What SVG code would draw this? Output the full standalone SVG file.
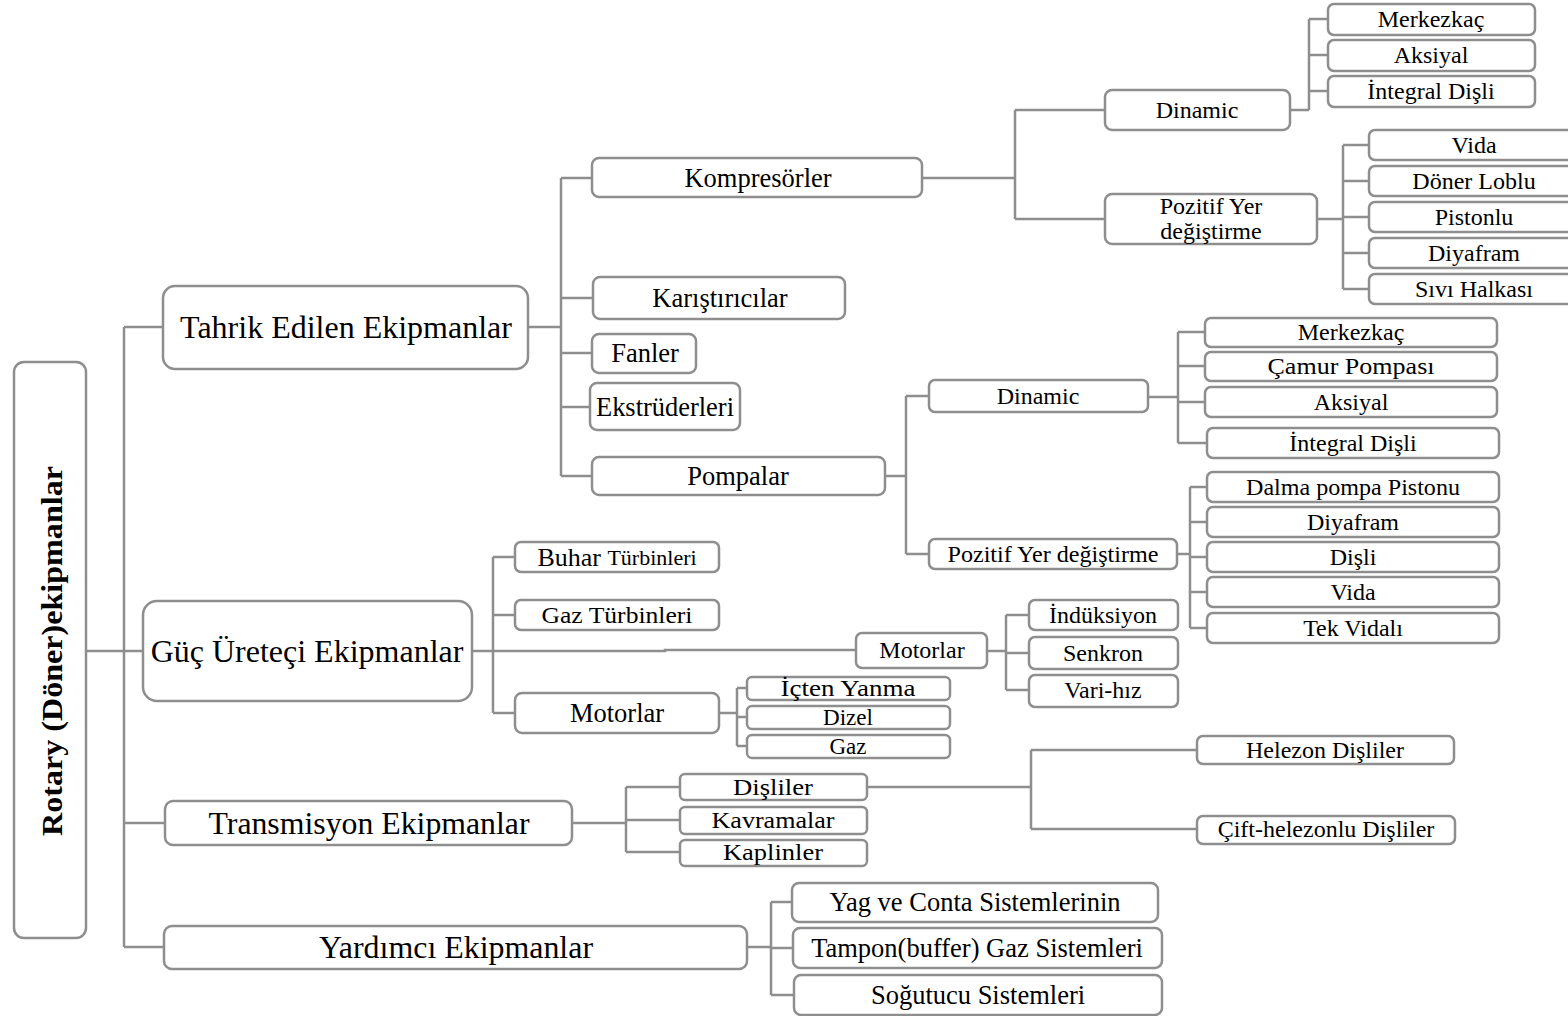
<svg xmlns="http://www.w3.org/2000/svg" width="1568" height="1016" viewBox="0 0 1568 1016">
  <style>
    .box { fill: #ffffff; stroke: #8e8e8e; stroke-width: 2.5; }
    .link { fill: none; stroke: #8e8e8e; stroke-width: 2.5; }
    text { font-family: "Liberation Serif", "Times New Roman", serif; fill: #000000; text-anchor: middle; dominant-baseline: central; }
    .l1 { font-size: 32px; }
    .l2 { font-size: 26.5px; }
    .l3 { font-size: 24px; }
    .root { font-size: 29px; font-weight: bold; }
  </style>
  <rect width="1568" height="1016" fill="#ffffff"/>

  <!-- connectors -->
  <g id="connectors">
    <!-- root trunk -->
    <path class="link" d="M86 651 H143 M124 327 V947 M124 327 H163 M124 823 H165 M124 947 H164"/>
    <!-- Tahrik Edilen Ekipmanlar -->
    <path class="link" d="M528 327 H561 M561 178 V476 M561 178 H592 M561 298 H593 M561 353 H592 M561 407 H590 M561 476 H592"/>
    <!-- Kompresörler -->
    <path class="link" d="M922 178 H1015 M1015 110 V219 M1015 110 H1105 M1015 219 H1105"/>
    <path class="link" d="M1290 110 H1309 M1309 19 V110 M1309 19 H1328 M1309 55 H1328 M1309 91 H1328"/>
    <path class="link" d="M1317 219 H1343 M1343 145 V289 M1343 145 H1369 M1343 181 H1369 M1343 217 H1369 M1343 253 H1369 M1343 289 H1369"/>
    <!-- Pompalar -->
    <path class="link" d="M885 476 H906 M906 396 V554 M906 396 H929 M906 554 H929"/>
    <path class="link" d="M1148 397 H1178 M1178 332 V443 M1178 332 H1205 M1178 366 H1205 M1178 402 H1205 M1178 443 H1207"/>
    <path class="link" d="M1177 554 H1190 M1190 487 V628 M1190 487 H1207 M1190 522 H1207 M1190 557 H1207 M1190 592 H1207 M1190 628 H1207"/>
    <!-- Güç Üreteçi Ekipmanlar -->
    <path class="link" d="M472 651 H665 V650 H856 M493 557 V713 M493 557 H515 M493 615 H515 M493 713 H515"/>
    <path class="link" d="M987 651 H1006 M1006 615 V690 M1006 615 H1029 M1006 653 H1029 M1006 690 H1029"/>
    <path class="link" d="M719 713 H737 M737 688 V746 M737 688 H747 M737 717 H747 M737 746 H747"/>
    <!-- Transmisyon Ekipmanlar -->
    <path class="link" d="M572 823 H626 M626 787 V852 M626 787 H680 M626 820 H680 M626 852 H680"/>
    <path class="link" d="M867 787 H1031 M1031 750 V829 M1031 750 H1197 M1031 829 H1197"/>
    <!-- Yardımcı Ekipmanlar -->
    <path class="link" d="M747 947 H771 M771 902 V995 M771 902 H792 M771 948 H793 M771 995 H794"/>
  </g>

  <!-- root -->
  <g id="n-root">
    <rect class="box" x="14" y="362" width="72" height="576" rx="10"/>
    <text class="root" transform="translate(52 651) rotate(-90)" x="0" y="0" textLength="370" lengthAdjust="spacingAndGlyphs">Rotary (Döner)ekipmanlar</text>
  </g>

  <!-- level 1 -->
  <g id="n-tahrik">
    <rect class="box" x="163" y="286" width="365" height="83" rx="12"/>
    <text class="l1" x="346" y="327">Tahrik Edilen Ekipmanlar</text>
  </g>
  <g id="n-guc">
    <rect class="box" x="143" y="601" width="329" height="100" rx="14"/>
    <text class="l1" x="307" y="651">Güç Üreteçi Ekipmanlar</text>
  </g>
  <g id="n-transmisyon">
    <rect class="box" x="165" y="801" width="407" height="44" rx="8"/>
    <text class="l1" x="369" y="823" font-size="34" textLength="321" lengthAdjust="spacingAndGlyphs">Transmisyon Ekipmanlar</text>
  </g>
  <g id="n-yardimci">
    <rect class="box" x="164" y="926" width="583" height="43" rx="8"/>
    <text class="l1" x="456" y="947" textLength="274" lengthAdjust="spacingAndGlyphs">Yardımcı Ekipmanlar</text>
  </g>

  <!-- Tahrik Edilen Ekipmanlar children -->
  <g id="n-kompresorler">
    <rect class="box" x="592" y="158" width="330" height="39" rx="7"/>
    <text class="l2" x="758" y="178">Kompresörler</text>
  </g>
  <g id="n-karistiricilar">
    <rect class="box" x="593" y="277" width="252" height="42" rx="7"/>
    <text class="l2" x="720" y="298">Karıştırıcılar</text>
  </g>
  <g id="n-fanler">
    <rect class="box" x="592" y="334" width="104" height="39" rx="7"/>
    <text class="l2" x="645" y="353">Fanler</text>
  </g>
  <g id="n-ekstruderleri">
    <rect class="box" x="590" y="383" width="150" height="47" rx="7"/>
    <text class="l2" x="665" y="407" textLength="138" lengthAdjust="spacingAndGlyphs">Ekstrüderleri</text>
  </g>
  <g id="n-pompalar">
    <rect class="box" x="592" y="457" width="293" height="38" rx="7"/>
    <text class="l2" x="738" y="476">Pompalar</text>
  </g>

  <!-- Kompresörler children -->
  <g id="n-komp-dinamic">
    <rect class="box" x="1105" y="90" width="185" height="40" rx="7"/>
    <text class="l3" x="1197" y="110">Dinamic</text>
  </g>
  <g id="n-komp-pozitif">
    <rect class="box" x="1105" y="194" width="212" height="50" rx="7"/>
    <text class="l3" x="1211" y="206">Pozitif Yer</text>
    <text class="l3" x="1211" y="231">değiştirme</text>
  </g>
  <g id="n-komp-merkezkac">
    <rect class="box" x="1328" y="4" width="207" height="31" rx="6"/>
    <text class="l3" x="1431" y="19">Merkezkaç</text>
  </g>
  <g id="n-komp-aksiyal">
    <rect class="box" x="1328" y="40" width="207" height="31" rx="6"/>
    <text class="l3" x="1431" y="55">Aksiyal</text>
  </g>
  <g id="n-komp-integral">
    <rect class="box" x="1328" y="76" width="207" height="31" rx="6"/>
    <text class="l3" x="1431" y="91">İntegral Dişli</text>
  </g>
  <g id="n-komp-vida">
    <rect class="box" x="1369" y="130" width="215" height="30" rx="6"/>
    <text class="l3" x="1474" y="145">Vida</text>
  </g>
  <g id="n-komp-doner">
    <rect class="box" x="1369" y="166" width="215" height="30" rx="6"/>
    <text class="l3" x="1474" y="181">Döner Loblu</text>
  </g>
  <g id="n-komp-pistonlu">
    <rect class="box" x="1369" y="202" width="215" height="30" rx="6"/>
    <text class="l3" x="1474" y="217">Pistonlu</text>
  </g>
  <g id="n-komp-diyafram">
    <rect class="box" x="1369" y="238" width="215" height="30" rx="6"/>
    <text class="l3" x="1474" y="253">Diyafram</text>
  </g>
  <g id="n-komp-sivi">
    <rect class="box" x="1369" y="274" width="215" height="30" rx="6"/>
    <text class="l3" x="1474" y="289">Sıvı Halkası</text>
  </g>

  <!-- Pompalar children -->
  <g id="n-pomp-dinamic">
    <rect class="box" x="929" y="380" width="219" height="32" rx="6"/>
    <text class="l3" x="1038" y="396">Dinamic</text>
  </g>
  <g id="n-pomp-pozitif">
    <rect class="box" x="929" y="539" width="248" height="30" rx="6"/>
    <text class="l3" x="1053" y="554" textLength="211" lengthAdjust="spacingAndGlyphs">Pozitif Yer değiştirme</text>
  </g>
  <g id="n-pomp-merkezkac">
    <rect class="box" x="1205" y="318" width="292" height="29" rx="6"/>
    <text class="l3" x="1351" y="332">Merkezkaç</text>
  </g>
  <g id="n-pomp-camur">
    <rect class="box" x="1205" y="352" width="292" height="29" rx="6"/>
    <text class="l3" x="1351" y="366" textLength="167" lengthAdjust="spacingAndGlyphs">Çamur Pompası</text>
  </g>
  <g id="n-pomp-aksiyal">
    <rect class="box" x="1205" y="387" width="292" height="30" rx="6"/>
    <text class="l3" x="1351" y="402">Aksiyal</text>
  </g>
  <g id="n-pomp-integral">
    <rect class="box" x="1207" y="428" width="292" height="30" rx="6"/>
    <text class="l3" x="1353" y="443">İntegral Dişli</text>
  </g>
  <g id="n-pomp-dalma">
    <rect class="box" x="1207" y="472" width="292" height="30" rx="6"/>
    <text class="l3" x="1353" y="487" textLength="214" lengthAdjust="spacingAndGlyphs">Dalma pompa Pistonu</text>
  </g>
  <g id="n-pomp-diyafram">
    <rect class="box" x="1207" y="507" width="292" height="30" rx="6"/>
    <text class="l3" x="1353" y="522">Diyafram</text>
  </g>
  <g id="n-pomp-disli">
    <rect class="box" x="1207" y="542" width="292" height="30" rx="6"/>
    <text class="l3" x="1353" y="557">Dişli</text>
  </g>
  <g id="n-pomp-vida">
    <rect class="box" x="1207" y="577" width="292" height="30" rx="6"/>
    <text class="l3" x="1353" y="592">Vida</text>
  </g>
  <g id="n-pomp-tekvidali">
    <rect class="box" x="1207" y="613" width="292" height="30" rx="6"/>
    <text class="l3" x="1353" y="628">Tek Vidalı</text>
  </g>

  <!-- Güç Üreteçi Ekipmanlar children -->
  <g id="n-buhar">
    <rect class="box" x="515" y="542" width="204" height="30" rx="6"/>
    <text class="l3" x="617" y="557"><tspan font-size="26">Buhar </tspan><tspan font-size="22">Türbinleri</tspan></text>
  </g>
  <g id="n-gaz-turbin">
    <rect class="box" x="515" y="600" width="204" height="30" rx="6"/>
    <text class="l3" x="617" y="615" textLength="151" lengthAdjust="spacingAndGlyphs">Gaz Türbinleri</text>
  </g>
  <g id="n-motor-elektrik">
    <rect class="box" x="856" y="633" width="131" height="35" rx="6"/>
    <text class="l3" x="922" y="650">Motorlar</text>
  </g>
  <g id="n-induksiyon">
    <rect class="box" x="1029" y="600" width="149" height="30" rx="6"/>
    <text class="l3" x="1103" y="615">İndüksiyon</text>
  </g>
  <g id="n-senkron">
    <rect class="box" x="1029" y="637" width="149" height="32" rx="6"/>
    <text class="l3" x="1103" y="653">Senkron</text>
  </g>
  <g id="n-varihiz">
    <rect class="box" x="1029" y="675" width="149" height="32" rx="6"/>
    <text class="l3" x="1103" y="690">Vari-hız</text>
  </g>
  <g id="n-motor-icten">
    <rect class="box" x="515" y="693" width="204" height="40" rx="7"/>
    <text class="l2" x="617" y="713">Motorlar</text>
  </g>
  <g id="n-icten-yanma">
    <rect class="box" x="747" y="677" width="203" height="23" rx="5"/>
    <text class="l3" x="848" y="688" textLength="135" lengthAdjust="spacingAndGlyphs">İçten Yanma</text>
  </g>
  <g id="n-dizel">
    <rect class="box" x="747" y="706" width="203" height="23" rx="5"/>
    <text class="l3" x="848" y="717" textLength="50" lengthAdjust="spacingAndGlyphs">Dizel</text>
  </g>
  <g id="n-gaz">
    <rect class="box" x="747" y="735" width="203" height="23" rx="5"/>
    <text class="l3" x="848" y="746" textLength="37" lengthAdjust="spacingAndGlyphs">Gaz</text>
  </g>

  <!-- Transmisyon Ekipmanlar children -->
  <g id="n-disliler">
    <rect class="box" x="680" y="774" width="187" height="26" rx="5"/>
    <text class="l3" x="773" y="787" textLength="80" lengthAdjust="spacingAndGlyphs">Dişliler</text>
  </g>
  <g id="n-kavramalar">
    <rect class="box" x="680" y="807" width="187" height="27" rx="5"/>
    <text class="l3" x="773" y="820" textLength="123" lengthAdjust="spacingAndGlyphs">Kavramalar</text>
  </g>
  <g id="n-kaplinler">
    <rect class="box" x="680" y="840" width="187" height="26" rx="5"/>
    <text class="l3" x="773" y="852" textLength="100" lengthAdjust="spacingAndGlyphs">Kaplinler</text>
  </g>
  <g id="n-helezon">
    <rect class="box" x="1197" y="736" width="257" height="28" rx="6"/>
    <text class="l3" x="1325" y="750">Helezon Dişliler</text>
  </g>
  <g id="n-cift-helezon">
    <rect class="box" x="1197" y="816" width="258" height="28" rx="6"/>
    <text class="l3" x="1326" y="829">Çift-helezonlu Dişliler</text>
  </g>

  <!-- Yardımcı Ekipmanlar children -->
  <g id="n-yag">
    <rect class="box" x="792" y="883" width="366" height="39" rx="7"/>
    <text class="l2" x="975" y="902" font-size="28">Yag ve Conta Sistemlerinin</text>
  </g>
  <g id="n-tampon">
    <rect class="box" x="793" y="928" width="369" height="40" rx="7"/>
    <text class="l2" x="977" y="948" font-size="28">Tampon(buffer) Gaz Sistemleri</text>
  </g>
  <g id="n-sogutucu">
    <rect class="box" x="794" y="975" width="368" height="40" rx="7"/>
    <text class="l2" x="978" y="995" font-size="28">Soğutucu Sistemleri</text>
  </g>
</svg>
